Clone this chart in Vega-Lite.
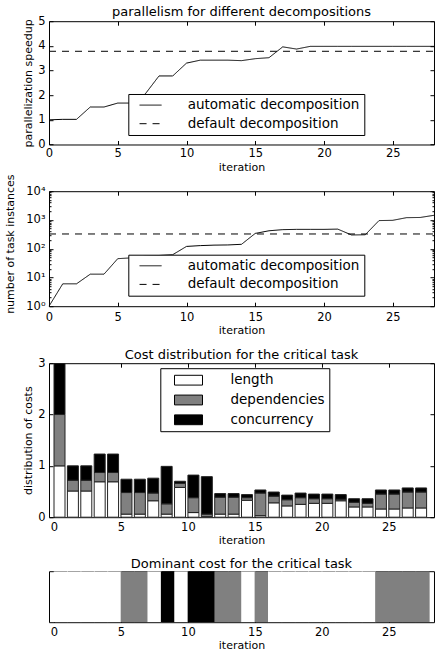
{
  "$schema": "https://vega.github.io/schema/vega-lite/v6.json",
  "padding": {"left": 4, "top": 5.2, "right": 5, "bottom": 0},
  "spacing": 0,
  "config": {
    "font": "DejaVu Sans",
    "view": {"stroke": "black", "strokeWidth": 1},
    "axis": {"grid": false, "domain": false, "tickColor": "black", "tickSize": -4, "tickWidth": 1, "labelFontSize": 11.5, "labelColor": "black", "labelFlush": false, "labelOverlap": false, "titleFontSize": 11, "titleFontWeight": "normal", "titleColor": "black", "labelPadding": 8},
    "title": {"fontSize": 13, "fontWeight": "normal", "offset": 2, "frame": "group", "color": "black"},
    "legend": {"title": null, "orient": "none", "strokeColor": "black", "fillColor": "white", "labelFontSize": 13.5, "labelColor": "black", "labelLimit": 300, "symbolStrokeColor": "black", "symbolStrokeWidth": 1}
  },
  "resolve": {
    "scale": {"x": "independent", "y": "independent", "fill": "independent", "strokeDash": "independent"},
    "legend": {"fill": "independent", "strokeDash": "independent"}
  },
  "vconcat": [
    {
      "title": {"text": "parallelism for different decompositions", "offset": -3.8},
      "width": 385,
      "height": 123.3,
      "data": {"values": [
        {"iteration": 0, "series": "automatic decomposition", "speedup": 1.0},
        {"iteration": 1, "series": "automatic decomposition", "speedup": 1.02},
        {"iteration": 2, "series": "automatic decomposition", "speedup": 1.02},
        {"iteration": 3, "series": "automatic decomposition", "speedup": 1.52},
        {"iteration": 4, "series": "automatic decomposition", "speedup": 1.52},
        {"iteration": 5, "series": "automatic decomposition", "speedup": 1.68},
        {"iteration": 6, "series": "automatic decomposition", "speedup": 1.68},
        {"iteration": 7, "series": "automatic decomposition", "speedup": 2.05},
        {"iteration": 8, "series": "automatic decomposition", "speedup": 2.78},
        {"iteration": 9, "series": "automatic decomposition", "speedup": 2.78},
        {"iteration": 10, "series": "automatic decomposition", "speedup": 3.3},
        {"iteration": 11, "series": "automatic decomposition", "speedup": 3.42},
        {"iteration": 12, "series": "automatic decomposition", "speedup": 3.42},
        {"iteration": 13, "series": "automatic decomposition", "speedup": 3.42},
        {"iteration": 14, "series": "automatic decomposition", "speedup": 3.4},
        {"iteration": 15, "series": "automatic decomposition", "speedup": 3.48},
        {"iteration": 16, "series": "automatic decomposition", "speedup": 3.52},
        {"iteration": 17, "series": "automatic decomposition", "speedup": 3.96},
        {"iteration": 18, "series": "automatic decomposition", "speedup": 3.87},
        {"iteration": 19, "series": "automatic decomposition", "speedup": 3.98},
        {"iteration": 20, "series": "automatic decomposition", "speedup": 3.98},
        {"iteration": 21, "series": "automatic decomposition", "speedup": 3.98},
        {"iteration": 22, "series": "automatic decomposition", "speedup": 3.98},
        {"iteration": 23, "series": "automatic decomposition", "speedup": 3.98},
        {"iteration": 24, "series": "automatic decomposition", "speedup": 3.98},
        {"iteration": 25, "series": "automatic decomposition", "speedup": 3.98},
        {"iteration": 26, "series": "automatic decomposition", "speedup": 3.98},
        {"iteration": 27, "series": "automatic decomposition", "speedup": 3.98},
        {"iteration": 28, "series": "automatic decomposition", "speedup": 3.98},
        {"iteration": 0, "series": "default decomposition", "speedup": 3.78},
        {"iteration": 28, "series": "default decomposition", "speedup": 3.78}
      ]},
      "layer": [
        {
          "mark": {"type": "line", "color": "black", "strokeWidth": 1},
          "encoding": {
            "x": {"field": "iteration", "type": "quantitative", "scale": {"domain": [0, 28], "nice": false}, "axis": {"values": [0, 5, 10, 15, 20, 25], "title": "iteration", "labelPadding": 6.6, "titleX": 192.5, "titleY": 17}},
            "y": {"field": "speedup", "type": "quantitative", "scale": {"domain": [0, 5], "nice": false}, "axis": {"values": [0, 1, 2, 3, 4, 5], "title": "parallelization speedup", "titlePadding": 4.4}},
            "strokeDash": {"field": "series", "type": "nominal", "scale": {"domain": ["automatic decomposition", "default decomposition"], "range": [[1, 0], [7, 6]]}, "legend": {"legendX": 79.3, "legendY": 72.8, "padding": 4.35, "symbolType": "M-2,0H2", "symbolSize": 121, "symbolOffset": 11.15, "labelOffset": 30.35, "rowPadding": 3.6}}
          }
        },
        {
          "mark": {"type": "line", "opacity": 0},
          "encoding": {
            "x": {"field": "iteration", "type": "quantitative", "scale": {"domain": [0, 28], "nice": false}, "axis": {"orient": "top", "values": [0, 5, 10, 15, 20, 25], "labels": false, "title": null}},
            "y": {"field": "speedup", "type": "quantitative", "scale": {"domain": [0, 5], "nice": false}, "axis": {"orient": "right", "values": [0, 1, 2, 3, 4, 5], "labels": false, "title": null}}
          }
        }
      ],
      "resolve": {"axis": {"x": "independent", "y": "independent"}}
    },
    {
      "width": 385,
      "height": 115,
      "data": {"values": [
        {"iteration": 0, "series": "automatic decomposition", "instances": 1},
        {"iteration": 1, "series": "automatic decomposition", "instances": 6},
        {"iteration": 2, "series": "automatic decomposition", "instances": 6},
        {"iteration": 3, "series": "automatic decomposition", "instances": 13},
        {"iteration": 4, "series": "automatic decomposition", "instances": 13},
        {"iteration": 5, "series": "automatic decomposition", "instances": 45},
        {"iteration": 6, "series": "automatic decomposition", "instances": 48},
        {"iteration": 7, "series": "automatic decomposition", "instances": 55},
        {"iteration": 8, "series": "automatic decomposition", "instances": 58},
        {"iteration": 9, "series": "automatic decomposition", "instances": 62},
        {"iteration": 10, "series": "automatic decomposition", "instances": 120},
        {"iteration": 11, "series": "automatic decomposition", "instances": 128},
        {"iteration": 12, "series": "automatic decomposition", "instances": 133},
        {"iteration": 13, "series": "automatic decomposition", "instances": 135},
        {"iteration": 14, "series": "automatic decomposition", "instances": 142},
        {"iteration": 15, "series": "automatic decomposition", "instances": 340},
        {"iteration": 16, "series": "automatic decomposition", "instances": 420},
        {"iteration": 17, "series": "automatic decomposition", "instances": 460},
        {"iteration": 18, "series": "automatic decomposition", "instances": 470},
        {"iteration": 19, "series": "automatic decomposition", "instances": 470},
        {"iteration": 20, "series": "automatic decomposition", "instances": 470},
        {"iteration": 21, "series": "automatic decomposition", "instances": 480},
        {"iteration": 22, "series": "automatic decomposition", "instances": 300},
        {"iteration": 23, "series": "automatic decomposition", "instances": 305},
        {"iteration": 24, "series": "automatic decomposition", "instances": 950},
        {"iteration": 25, "series": "automatic decomposition", "instances": 970},
        {"iteration": 26, "series": "automatic decomposition", "instances": 1200},
        {"iteration": 27, "series": "automatic decomposition", "instances": 1220},
        {"iteration": 28, "series": "automatic decomposition", "instances": 1450},
        {"iteration": 0, "series": "default decomposition", "instances": 325},
        {"iteration": 28, "series": "default decomposition", "instances": 325}
      ]},
      "layer": [
        {
          "mark": {"type": "line", "color": "black", "strokeWidth": 1},
          "encoding": {
            "x": {"field": "iteration", "type": "quantitative", "scale": {"domain": [0, 28], "nice": false}, "axis": {"values": [0, 5, 10, 15, 20, 25], "title": "iteration", "labelPadding": 9, "titleX": 192.5, "titleY": 18.5, "minExtent": 41.3}},
            "y": {"field": "instances", "type": "quantitative", "scale": {"type": "log", "domain": [1, 10000], "nice": false}, "axis": {"values": [1, 10, 100, 1000, 10000], "title": "number of task instances", "titleX": -33.4, "titleY": 52.5, "labelExpr": "datum.value == 1 ? '10⁰' : datum.value == 10 ? '10¹' : datum.value == 100 ? '10²' : datum.value == 1000 ? '10³' : '10⁴'"}},
            "strokeDash": {"field": "series", "type": "nominal", "scale": {"domain": ["automatic decomposition", "default decomposition"], "range": [[1, 0], [7, 6]]}, "legend": {"legendX": 79.3, "legendY": 63.5, "padding": 4.35, "symbolType": "M-2,0H2", "symbolSize": 121, "symbolOffset": 11.15, "labelOffset": 30.35, "rowPadding": 3.6}}
          }
        },
        {
          "mark": {"type": "line", "opacity": 0},
          "encoding": {
            "x": {"field": "iteration", "type": "quantitative", "scale": {"domain": [0, 28], "nice": false}, "axis": {"orient": "top", "values": [0, 5, 10, 15, 20, 25], "labels": false, "title": null}},
            "y": {"field": "instances", "type": "quantitative", "scale": {"type": "log", "domain": [1, 10000], "nice": false}, "axis": {"orient": "right", "values": [1, 10, 100, 1000, 10000], "labels": false, "title": null}}
          }
        },
        {
          "mark": {"type": "line", "opacity": 0},
          "encoding": {
            "x": {"field": "iteration", "type": "quantitative", "scale": {"domain": [0, 28], "nice": false}, "axis": null},
            "y": {"field": "instances", "type": "quantitative", "scale": {"type": "log", "domain": [1, 10000], "nice": false}, "axis": {"orient": "left", "values": [2, 3, 4, 5, 6, 7, 8, 9, 20, 30, 40, 50, 60, 70, 80, 90, 200, 300, 400, 500, 600, 700, 800, 900, 2000, 3000, 4000, 5000, 6000, 7000, 8000, 9000], "labels": false, "title": null, "tickSize": -2}}
          }
        },
        {
          "mark": {"type": "line", "opacity": 0},
          "encoding": {
            "x": {"field": "iteration", "type": "quantitative", "scale": {"domain": [0, 28], "nice": false}, "axis": null},
            "y": {"field": "instances", "type": "quantitative", "scale": {"type": "log", "domain": [1, 10000], "nice": false}, "axis": {"orient": "right", "values": [2, 3, 4, 5, 6, 7, 8, 9, 20, 30, 40, 50, 60, 70, 80, 90, 200, 300, 400, 500, 600, 700, 800, 900, 2000, 3000, 4000, 5000, 6000, 7000, 8000, 9000], "labels": false, "title": null, "tickSize": -2}}
          }
        }
      ],
      "resolve": {"axis": {"x": "independent", "y": "independent"}}
    },
    {
      "title": {"text": "Cost distribution for the critical task", "offset": -5.2},
      "width": 385,
      "height": 154,
      "data": {"values": [
        {"iteration": 0, "length": 1.0, "dependencies": 1.0, "concurrency": 1.0},
        {"iteration": 1, "length": 0.51, "dependencies": 0.21, "concurrency": 0.28},
        {"iteration": 2, "length": 0.51, "dependencies": 0.21, "concurrency": 0.28},
        {"iteration": 3, "length": 0.69, "dependencies": 0.18, "concurrency": 0.36},
        {"iteration": 4, "length": 0.69, "dependencies": 0.18, "concurrency": 0.36},
        {"iteration": 5, "length": 0.06, "dependencies": 0.42, "concurrency": 0.26},
        {"iteration": 6, "length": 0.06, "dependencies": 0.42, "concurrency": 0.26},
        {"iteration": 7, "length": 0.32, "dependencies": 0.15, "concurrency": 0.29},
        {"iteration": 8, "length": 0.06, "dependencies": 0.2, "concurrency": 0.73},
        {"iteration": 9, "length": 0.58, "dependencies": 0.08, "concurrency": 0.04},
        {"iteration": 10, "length": 0.09, "dependencies": 0.29, "concurrency": 0.44},
        {"iteration": 11, "length": 0.01, "dependencies": 0.05, "concurrency": 0.73},
        {"iteration": 12, "length": 0.06, "dependencies": 0.33, "concurrency": 0.07},
        {"iteration": 13, "length": 0.06, "dependencies": 0.33, "concurrency": 0.07},
        {"iteration": 14, "length": 0.33, "dependencies": 0.05, "concurrency": 0.06},
        {"iteration": 15, "length": 0.03, "dependencies": 0.44, "concurrency": 0.06},
        {"iteration": 16, "length": 0.28, "dependencies": 0.13, "concurrency": 0.08},
        {"iteration": 17, "length": 0.22, "dependencies": 0.12, "concurrency": 0.09},
        {"iteration": 18, "length": 0.25, "dependencies": 0.13, "concurrency": 0.09},
        {"iteration": 19, "length": 0.27, "dependencies": 0.09, "concurrency": 0.09},
        {"iteration": 20, "length": 0.27, "dependencies": 0.09, "concurrency": 0.09},
        {"iteration": 21, "length": 0.32, "dependencies": 0.03, "concurrency": 0.09},
        {"iteration": 22, "length": 0.2, "dependencies": 0.09, "concurrency": 0.07},
        {"iteration": 23, "length": 0.2, "dependencies": 0.07, "concurrency": 0.09},
        {"iteration": 24, "length": 0.16, "dependencies": 0.29, "concurrency": 0.08},
        {"iteration": 25, "length": 0.16, "dependencies": 0.29, "concurrency": 0.08},
        {"iteration": 26, "length": 0.18, "dependencies": 0.31, "concurrency": 0.08},
        {"iteration": 27, "length": 0.18, "dependencies": 0.31, "concurrency": 0.08}
      ]},
      "layer": [
        {
          "transform": [{"fold": ["length", "dependencies", "concurrency"], "as": ["component", "cost"]}],
          "mark": {"type": "bar", "width": 11, "xOffset": 5.5, "stroke": "#222", "strokeWidth": 1, "clip": true},
          "encoding": {
            "x": {"field": "iteration", "type": "quantitative", "scale": {"domain": [0, 28], "nice": false}, "axis": {"values": [0, 5, 10, 15, 20, 25], "title": "iteration", "titleX": 192.5, "titleY": 17.4, "minExtent": 39.2}},
            "y": {"field": "cost", "type": "quantitative", "stack": "zero", "scale": {"domain": [0, 3], "nice": false}, "axis": {"values": [0, 1, 2, 3], "title": "distribution of costs", "titlePadding": 4.4}},
            "fill": {"field": "component", "type": "nominal", "sort": ["length", "dependencies", "concurrency"], "scale": {"domain": ["length", "dependencies", "concurrency"], "range": ["white", "#808080", "black"]}, "legend": {"legendX": 111.3, "legendY": 5, "padding": 4.5, "symbolType": "M-2,-0.7H2V0.7H-2Z", "symbolSize": 196, "symbolOpacity": 1, "symbolOffset": 16.2, "labelOffset": 34.5, "rowPadding": 4.8}}
          }
        },
        {
          "mark": {"type": "point", "opacity": 0},
          "encoding": {
            "x": {"field": "iteration", "type": "quantitative", "scale": {"domain": [0, 28], "nice": false}, "axis": {"orient": "top", "values": [0, 5, 10, 15, 20, 25], "labels": false, "title": null}},
            "y": {"field": "length", "type": "quantitative", "scale": {"domain": [0, 3], "nice": false}, "axis": {"orient": "right", "values": [0, 1, 2, 3], "labels": false, "title": null}}
          }
        }
      ],
      "resolve": {"axis": {"x": "independent", "y": "independent"}}
    },
    {
      "title": {"text": "Dominant cost for the critical task", "offset": -0.2},
      "width": 385,
      "height": 51,
      "data": {"values": [
        {"iteration": 0, "dominant": "length"},
        {"iteration": 1, "dominant": "length"},
        {"iteration": 2, "dominant": "length"},
        {"iteration": 3, "dominant": "length"},
        {"iteration": 4, "dominant": "length"},
        {"iteration": 5, "dominant": "dependencies"},
        {"iteration": 6, "dominant": "dependencies"},
        {"iteration": 7, "dominant": "length"},
        {"iteration": 8, "dominant": "concurrency"},
        {"iteration": 9, "dominant": "length"},
        {"iteration": 10, "dominant": "concurrency"},
        {"iteration": 11, "dominant": "concurrency"},
        {"iteration": 12, "dominant": "dependencies"},
        {"iteration": 13, "dominant": "dependencies"},
        {"iteration": 14, "dominant": "length"},
        {"iteration": 15, "dominant": "dependencies"},
        {"iteration": 16, "dominant": "length"},
        {"iteration": 17, "dominant": "length"},
        {"iteration": 18, "dominant": "length"},
        {"iteration": 19, "dominant": "length"},
        {"iteration": 20, "dominant": "length"},
        {"iteration": 21, "dominant": "length"},
        {"iteration": 22, "dominant": "length"},
        {"iteration": 23, "dominant": "length"},
        {"iteration": 24, "dominant": "dependencies"},
        {"iteration": 25, "dominant": "dependencies"},
        {"iteration": 26, "dominant": "dependencies"},
        {"iteration": 27, "dominant": "dependencies"}
      ]},
      "layer": [
        {
          "mark": {"type": "bar", "orient": "vertical", "width": 14.3, "xOffset": 6.875, "clip": true},
          "encoding": {
            "x": {"field": "iteration", "type": "quantitative", "scale": {"domain": [0, 28], "nice": false}, "axis": {"values": [0, 5, 10, 15, 20, 25], "title": "iteration", "titleX": 192.5, "titleY": 17.5}},
            "y": {"datum": 1, "type": "quantitative", "scale": {"domain": [0, 1], "nice": false}, "axis": null},
            "fill": {"field": "dominant", "type": "nominal", "scale": {"domain": ["length", "dependencies", "concurrency"], "range": ["white", "#808080", "black"]}, "legend": null}
          }
        },
        {
          "mark": {"type": "point", "opacity": 0},
          "encoding": {
            "x": {"field": "iteration", "type": "quantitative", "scale": {"domain": [0, 28], "nice": false}, "axis": {"orient": "top", "values": [0, 5, 10, 15, 20, 25], "labels": false, "title": null}}
          }
        }
      ],
      "resolve": {"axis": {"x": "independent"}}
    }
  ]
}
